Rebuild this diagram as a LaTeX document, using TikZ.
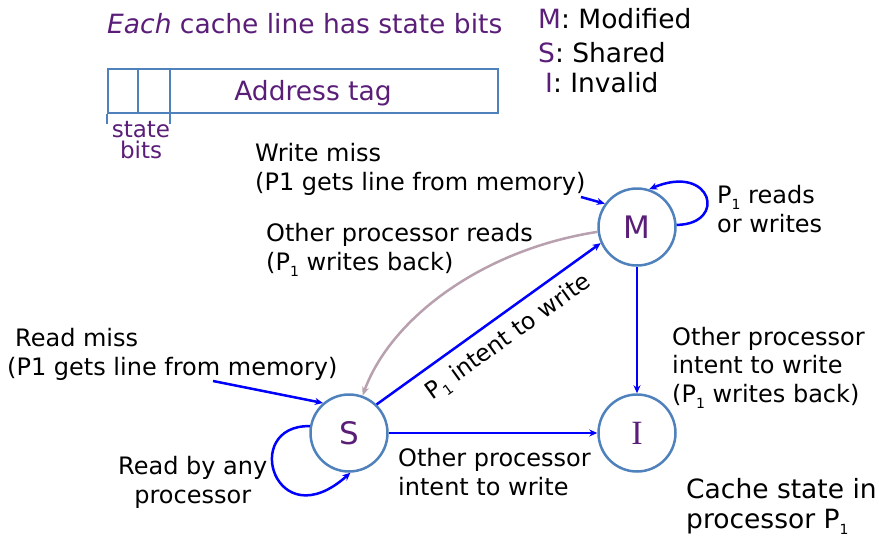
\documentclass[tikz,border=0pt]{standalone}
\usepackage{fontspec}
\setmainfont{DejaVu Sans}
\newfontfamily\serifI{Liberation Serif}
\usetikzlibrary{arrows.meta}
\definecolor{tpurple}{RGB}{90,30,120}
\definecolor{cblue}{RGB}{79,129,189}
\definecolor{mauve}{RGB}{185,160,175}
\definecolor{arrblue}{RGB}{0,0,255}
\newcommand{\sub}[1]{\raisebox{-6pt}{\fontsize{14}{14}\selectfont #1}}
\begin{document}
\begin{tikzpicture}[x=1pt,y=-1pt,
  every node/.style={inner sep=0pt},
  lbl/.style={font=\fontsize{24}{28.5}\selectfont, align=left, anchor=base west},
  big/.style={font=\fontsize{26.5}{30}\selectfont, anchor=base west},
  state/.style={circle, draw=cblue, line width=2.5pt, minimum size=77pt, text=tpurple, font=\fontsize{31}{31}\selectfont},
  conn/.style={draw=arrblue, line width=2.5pt, -{Stealth[length=8pt,width=7pt]}},
  back/.style={draw=mauve, line width=2.5pt, -{Stealth[length=9pt,width=7pt,open]}},
  boxline/.style={draw=cblue, line width=2pt}
]
\useasboundingbox (0,0) rectangle (879,539);

% title and cache line
\node[big, text=tpurple] (title) at (107,33) {\textit{Each} cache line has state bits};
\node[boxline, minimum width=390pt, minimum height=44pt, anchor=north west] (tag) at (107,68) {};
\node[big, text=tpurple, anchor=base] (tagtxt) at (313,100) {Address tag};
\draw[boxline] ([xshift=31pt]tag.north west) -- ([xshift=31pt]tag.south west);
\draw[boxline] ([xshift=63pt]tag.north west) -- ([xshift=63pt]tag.south west);
\draw[boxline] (tag.south west) -- ++(0,10);
\draw[boxline] ([xshift=63pt]tag.south west) -- ++(0,10);
\node[font=\fontsize{23}{21}\selectfont, text=tpurple, align=center, anchor=base] (sb) at (141,158) {state\\bits};

% legend
\node[big] (lm) at (538,28) {\textcolor{tpurple}{M}: Modified};
\node[big] (ls) at (538,62) {\textcolor{tpurple}{S}: Shared};
\node[big] (li) at (545,92) {\textcolor{tpurple}{I}: Invalid};

% states
\node[state] (M) at (637,227) {M};
\node[state] (S) at (349,433) {S};
\node[state, font=\serifI\fontsize{34}{34}\selectfont] (I) at (637,433) {I};

% connectors
\coordinate (wm) at (581,197);
\coordinate (rm) at (213,381);
\draw[conn] (wm) -- (M.144);
\draw[conn] (rm) -- (S.131);
\draw[conn] (M.3) .. controls (728,224) and (712,163) .. (M.72);
\draw[conn] (S.170) .. controls (240,425) and (275,540) .. (S.272);
\draw[back] (M.187) .. controls (480,250) and (390,320) .. (S.70);
\draw[conn] (S.46) -- node[pos=0.53, sloped, anchor=north, inner sep=10pt, font=\fontsize{23.5}{28}\selectfont] (pi) {P\sub{1} intent to write} (M.204);
\draw[conn] (S) -- (I);
\draw[conn] (M) -- (I);

% labels
\node[lbl] (wmt) at (255,190) {Write miss\\(P1 gets line from memory)};
\node[lbl] (opr) at (266,270) {Other processor reads\\(P\sub{1} writes back)};
\node[lbl] (prw) at (717,232) {P\sub{1} reads\\or writes};
\node[lbl] (rmt) at (7,375) {\hspace{8pt}Read miss\\(P1 gets line from memory)};
\node[lbl, align=center] (rba) at (118,503) {Read by any\\processor};
\node[lbl] (opw) at (672,402) {Other processor\\intent to write\\(P\sub{1} writes back)};
\node[lbl] (opi) at (398,495) {Other processor\\intent to write};
\node[big, align=left] (cst) at (686,528) {Cache state in\\processor P\sub{1}};
\end{tikzpicture}
\end{document}
